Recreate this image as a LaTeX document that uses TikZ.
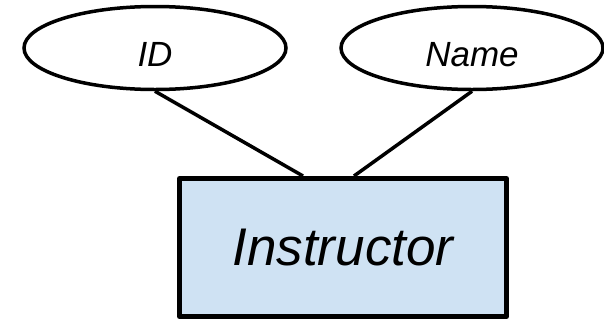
\documentclass[tikz,border=0pt]{standalone}
\usepackage{fontspec}
\setmainfont{Liberation Sans}
\usepackage{tikz}
\usetikzlibrary{calc, positioning, shapes.geometric}

\definecolor{entityblue}{HTML}{CFE2F3}

\begin{document}
\begin{tikzpicture}[
    x=1pt, y=-1pt,
    attr/.style={draw, ellipse, line width=3.5pt, inner sep=0pt, minimum width=262pt, minimum height=83pt, text height=36pt, text depth=0pt, font=\fontsize{35}{42}\selectfont\itshape},
    entity/.style={draw, rectangle, line width=5pt, line join=round, fill=entityblue, minimum width=327pt, minimum height=138pt, font=\fontsize{53}{62}\selectfont\itshape},
    link/.style={line width=3.5pt},
]
    \useasboundingbox (0,0) rectangle (604,322);

    % Attributes
    \node[attr] (id) at (155,48) {ID};
    \node[attr] (name) at (472,48) {Name};

    % Entity
    \node[entity] (instr) at (343,247.5) {Instructor};

    % Links
    \draw[link] (id.south) -- ($(instr.north) + (-40,0)$);
    \draw[link] (name.south) -- ($(instr.north) + (11,0)$);

\end{tikzpicture}
\end{document}
